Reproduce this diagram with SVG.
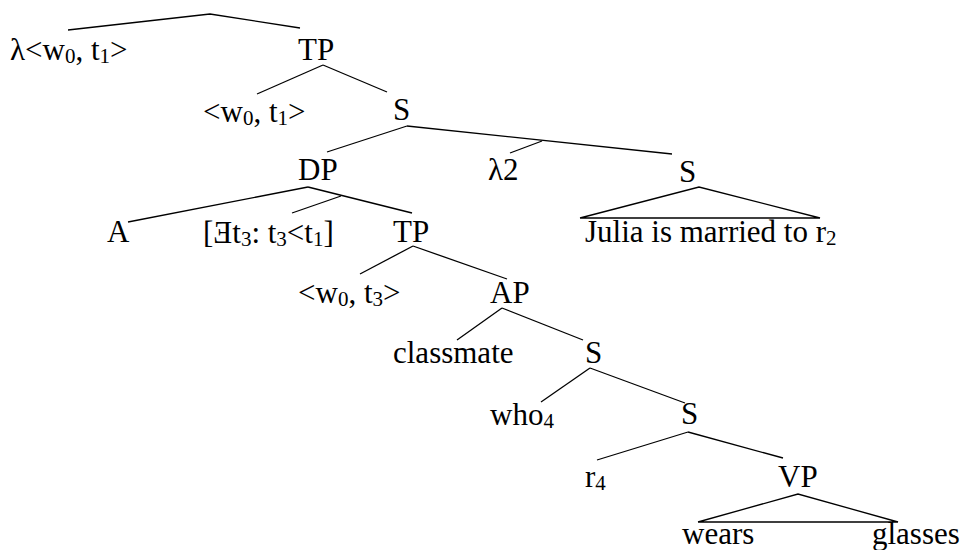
<svg xmlns="http://www.w3.org/2000/svg" width="963" height="550" viewBox="0 0 963 550">
<style>
text{font-family:"Liberation Serif","Times New Roman",serif;font-size:31px;fill:#000}
.sub{font-size:21px}
line,polyline{stroke:#000;stroke-width:1.3;fill:none}
</style>
<rect width="963" height="550" fill="#fff"/>
<g id="connectors">
<polyline points="68,30 210,14 300,28"/>
<line x1="323" y1="65" x2="257" y2="94"/>
<line x1="323" y1="65" x2="387" y2="92"/>
<line x1="407" y1="126" x2="327" y2="152"/>
<line x1="407" y1="126" x2="672" y2="154"/>
<line x1="542" y1="141" x2="510" y2="153"/>
<line x1="308" y1="187" x2="128" y2="222"/>
<line x1="308" y1="187" x2="412" y2="213"/>
<line x1="341" y1="196" x2="292" y2="213"/>
<polyline points="580,218 699,187 820,218 580,218"/>
<line x1="413" y1="246" x2="360" y2="274"/>
<line x1="413" y1="246" x2="507" y2="279"/>
<line x1="502" y1="308" x2="457" y2="340"/>
<line x1="502" y1="308" x2="583" y2="340"/>
<line x1="590" y1="368" x2="541" y2="402"/>
<line x1="590" y1="368" x2="685" y2="403"/>
<line x1="688" y1="432" x2="597" y2="460"/>
<line x1="688" y1="432" x2="783" y2="458"/>
<polyline points="698,522 798,494 898,522 698,522"/>
</g>
<g id="n-lam"><text x="10" y="60">λ&lt;w<tspan class="sub" dy="3">0</tspan><tspan dy="-3">, t</tspan><tspan class="sub" dy="3">1</tspan><tspan dy="-3">&gt;</tspan></text></g>
<g id="n-tp1"><text x="298" y="60">TP</text></g>
<g id="n-w0t1"><text x="203" y="122">&lt;w<tspan class="sub" dy="3">0</tspan><tspan dy="-3">, t</tspan><tspan class="sub" dy="3">1</tspan><tspan dy="-3">&gt;</tspan></text></g>
<g id="n-s1"><text x="393" y="120">S</text></g>
<g id="n-dp"><text x="298" y="180">DP</text></g>
<g id="n-lam2"><text x="488" y="180">λ2</text></g>
<g id="n-s2"><text x="679" y="182">S</text></g>
<g id="n-a"><text x="107" y="242">A</text></g>
<g id="n-exists"><text x="203" y="243">[Ǝt<tspan class="sub" dy="3">3</tspan><tspan dy="-3">: t</tspan><tspan class="sub" dy="3">3</tspan><tspan dy="-3">&lt;t</tspan><tspan class="sub" dy="3">1</tspan><tspan dy="-3">]</tspan></text></g>
<g id="n-tp2"><text x="393" y="242">TP</text></g>
<g id="n-julia"><text x="585" y="242">Julia is married to r<tspan class="sub" dy="3">2</tspan></text></g>
<g id="n-w0t3"><text x="298" y="303">&lt;w<tspan class="sub" dy="3">0</tspan><tspan dy="-3">, t</tspan><tspan class="sub" dy="3">3</tspan><tspan dy="-3">&gt;</tspan></text></g>
<g id="n-ap"><text x="490" y="303">AP</text></g>
<g id="n-classmate"><text x="393" y="363">classmate</text></g>
<g id="n-s3"><text x="585" y="363">S</text></g>
<g id="n-who"><text x="490" y="425">who<tspan class="sub" dy="3">4</tspan></text></g>
<g id="n-s4"><text x="681" y="424">S</text></g>
<g id="n-r4"><text x="585" y="487">r<tspan class="sub" dy="3">4</tspan></text></g>
<g id="n-vp"><text x="778" y="487">VP</text></g>
<g id="n-wears"><text x="682" y="544">wears</text></g>
<g id="n-glasses"><text x="872" y="544">glasses</text></g>
</svg>
